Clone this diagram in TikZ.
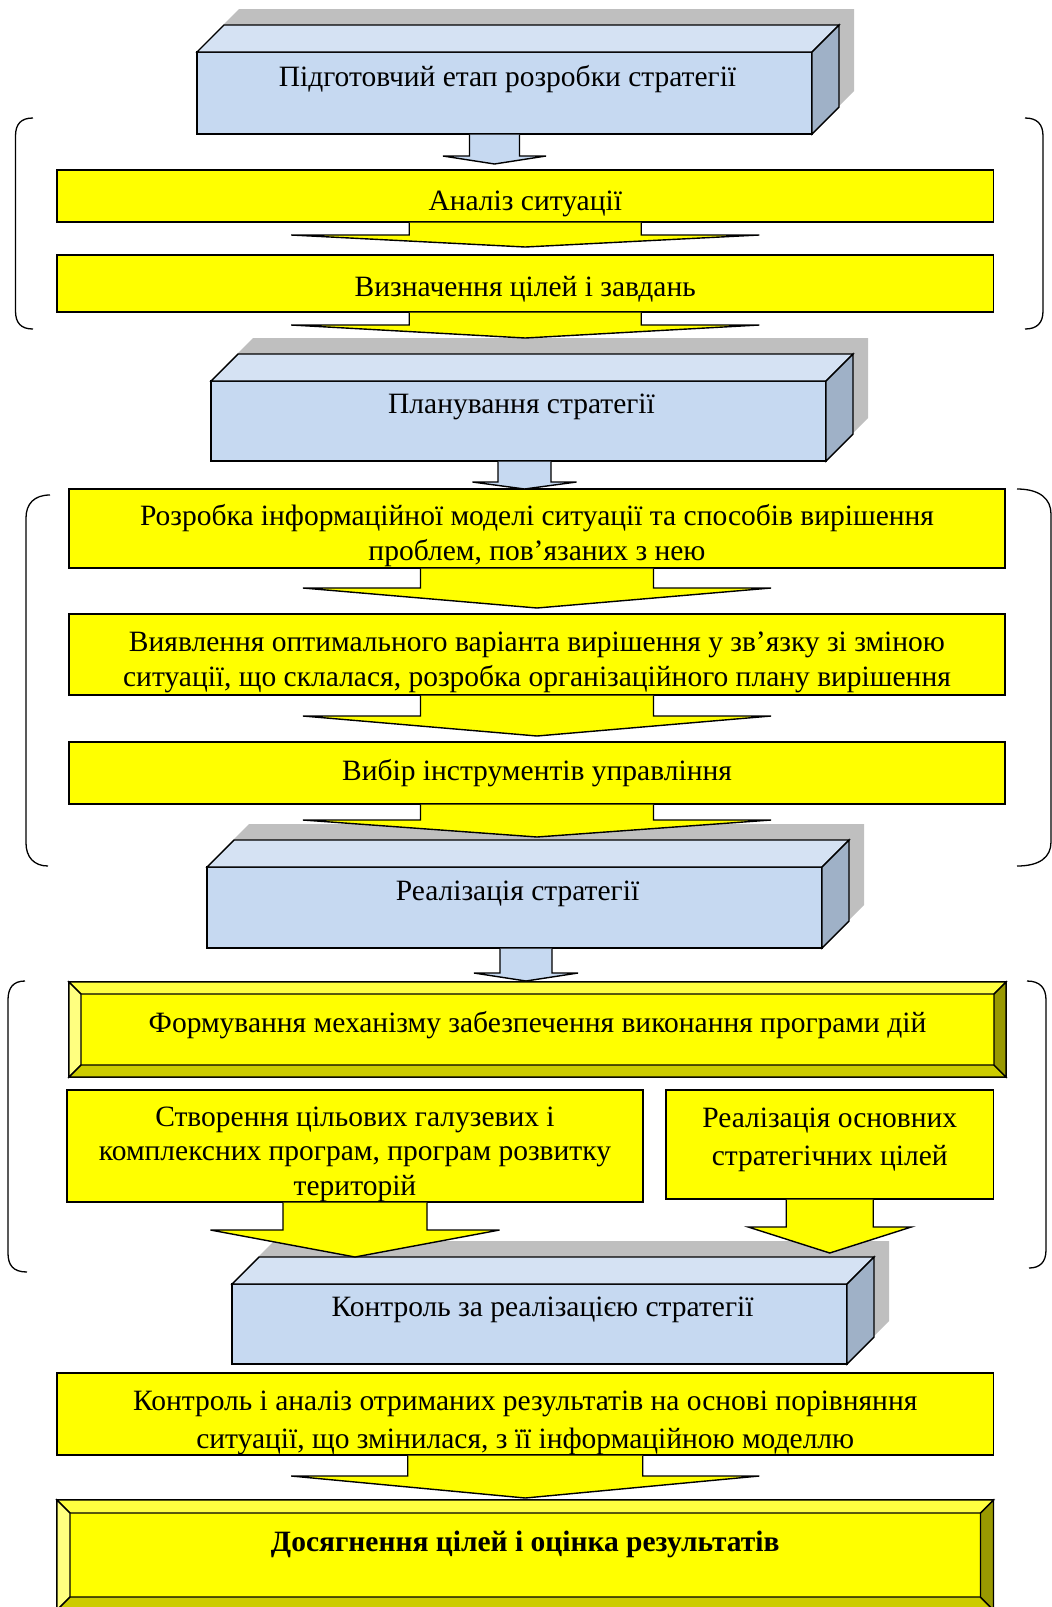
\documentclass[tikz,border=0pt]{standalone}
\usepackage{fontspec}
\setmainfont{Liberation Serif}
\usepackage{xcolor}
\usetikzlibrary{calc,backgrounds}

\definecolor{boxyellow}{HTML}{FFFF00}
\definecolor{cubefront}{HTML}{C6D9F1}
\definecolor{cubetop}{HTML}{D5E2F3}
\definecolor{cubeside}{HTML}{9FB1C7}
\definecolor{cubeshadow}{HTML}{BFBFBF}
\definecolor{beveltop}{HTML}{FFFF40}
\definecolor{bevelleft}{HTML}{FFFF80}
\definecolor{bevelbottom}{HTML}{CCCC00}
\definecolor{bevelright}{HTML}{999900}

\newcommand{\boxfont}{\fontsize{29.5}{34.5}\selectfont}
\newcommand{\wideboxfont}{\fontsize{29.5}{38.5}\selectfont}

\tikzset{
	box/.style={draw, line width=1.4pt, inner sep=0pt, outer sep=0pt},
	ybox/.style={box, fill=boxyellow},
	cube/.style={box, fill=cubefront, minimum width=615pt},
	boxtext/.style={font=\boxfont, align=center},
	cubetext/.style={boxtext, xshift=3pt, yshift=14pt},
	face/.style={draw, line width=1.4pt},
	yarrow/.style={draw, line width=1.4pt, fill=boxyellow},
	barrow/.style={draw, line width=1.4pt, fill=cubefront},
	brace/.style={draw, line width=1.3pt}
}

% #1 style, #2 start, #3 tip, #4 shaft half width, #5 head half width, #6 head length
\newcommand{\blockarrow}[6]{%
	\draw[#1] let \p1=(#2), \p2=(#3) in
		(\x1-#4,\y1) -- (\x1-#4,\y2+#6) -- (\x1-#5,\y2+#6) -- (\x1,\y2)
		-- (\x1+#5,\y2+#6) -- (\x1+#4,\y2+#6) -- (\x1+#4,\y1);
}

\newcommand{\cubefaces}[1]{%
	\begin{scope}[on background layer]
		\fill[cubeshadow] ([shift={(15,-16)}]#1.south west) -- ([shift={(15,-16)}]#1.north west)
			-- ([shift={(42,-43)}]#1.north west) -- ([shift={(42,-43)}]#1.north east)
			-- ([shift={(42,-43)}]#1.south east) -- ([shift={(15,-16)}]#1.south east) -- cycle;
	\end{scope}
	\draw[face, fill=cubetop] (#1.north west) -- ([shift={(27,-27)}]#1.north west)
		-- ([shift={(27,-27)}]#1.north east) -- (#1.north east) -- cycle;
	\draw[face, fill=cubeside] (#1.north east) -- ([shift={(27,-27)}]#1.north east)
		-- ([shift={(27,-27)}]#1.south east) -- (#1.south east) -- cycle;
}

\newcommand{\bevelfaces}[2]{%
	\draw[face, fill=beveltop] (#1.north west) -- (#1.north east)
		-- ([shift={(-#2,#2)}]#1.north east) -- ([shift={(#2,#2)}]#1.north west) -- cycle;
	\draw[face, fill=bevelleft] (#1.north west) -- ([shift={(#2,#2)}]#1.north west)
		-- ([shift={(#2,-#2)}]#1.south west) -- (#1.south west) -- cycle;
	\draw[face, fill=bevelbottom] (#1.south west) -- ([shift={(#2,-#2)}]#1.south west)
		-- ([shift={(-#2,-#2)}]#1.south east) -- (#1.south east) -- cycle;
	\draw[face, fill=bevelright] (#1.south east) -- ([shift={(-#2,-#2)}]#1.south east)
		-- ([shift={(-#2,#2)}]#1.north east) -- (#1.north east) -- cycle;
}

\begin{document}
\begin{tikzpicture}[x=1pt, y=-1pt]
	\useasboundingbox (0,0) rectangle (1052,1607);

	\node[cube, minimum height=82pt,
		label={[cubetext]center:Підготовчий етап розробки стратегії}] (prep) at (504.5,93) {};
	\cubefaces{prep}
	\node[ybox, minimum width=936.5pt, minimum height=52pt,
		label={[boxtext, yshift=-8pt]center:Аналіз ситуації}] (analiz) at (525.25,196) {};
	\node[ybox, minimum width=936.5pt, minimum height=57pt,
		label={[boxtext, yshift=-6pt]center:Визначення цілей і завдань}] (cili) at (525.25,283.5) {};

	\node[cube, minimum height=80pt,
		label={[cubetext]center:Планування стратегії}] (plan) at (518.5,421) {};
	\cubefaces{plan}
	\node[ybox, minimum width=936pt, minimum height=79pt,
		label={[boxtext, yshift=-7pt]center:{Розробка інформаційної моделі ситуації та способів вирішення\\проблем, пов’язаних з нею}}] (model) at (537,528.5) {};
	\node[ybox, minimum width=936pt, minimum height=81pt,
		label={[boxtext, yshift=-8pt]center:{Виявлення оптимального варіанта вирішення у зв’язку зі зміною\\ситуації, що склалася, розробка організаційного плану вирішення}}] (variant) at (537,654.5) {};
	\node[ybox, minimum width=936pt, minimum height=62pt,
		label={[boxtext]center:Вибір інструментів управління}] (instr) at (537,773) {};

	\node[cube, minimum height=81pt,
		label={[cubetext]center:Реалізація стратегії}] (realiz) at (514.5,907.5) {};
	\cubefaces{realiz}
	\node[ybox, minimum width=937pt, minimum height=95pt,
		label={[boxtext, yshift=4pt]center:Формування механізму забезпечення виконання програми дій}] (mech) at (537.5,1029.5) {};
	\bevelfaces{mech}{12}
	\node[ybox, minimum width=576pt, minimum height=112pt,
		label={[boxtext, yshift=-8pt]center:{Створення цільових галузевих і\\комплексних програм, програм розвитку\\територій}}] (program) at (355,1146) {};
	\node[ybox, minimum width=327.5pt, minimum height=109pt,
		label={[boxtext, font=\wideboxfont, yshift=4.5pt]center:{Реалізація основних\\стратегічних цілей}}] (goals) at (829.75,1144.5) {};

	\node[cube, minimum height=80pt,
		label={[cubetext]center:Контроль за реалізацією стратегії}] (control) at (539.5,1324) {};
	\cubefaces{control}
	\node[ybox, minimum width=936.5pt, minimum height=82pt,
		label={[boxtext, font=\wideboxfont, yshift=-9pt]center:{Контроль і аналіз отриманих результатів на основі порівняння\\ситуації, що змінилася, з її інформаційною моделлю}}] (analysis) at (525.25,1414) {};
	\node[ybox, minimum width=936.5pt, minimum height=110pt,
		label={[boxtext, font=\boxfont\bfseries, yshift=11pt]center:Досягнення цілей і оцінка результатів}] (result) at (525.25,1555) {};
	\bevelfaces{result}{13}

	\blockarrow{barrow}{$(prep.south)+(-10,0.7)$}{$(analiz.north)+(0,-6)$}{25pt}{51.5pt}{8pt}
	\blockarrow{yarrow}{$(analiz.south)+(0,0.7)$}{$(cili.north)+(0,-8)$}{116pt}{234pt}{12pt}
	\blockarrow{yarrow}{$(cili.south)+(0,0.7)$}{$(plan.north)+(0,-43)$}{116pt}{234pt}{13pt}
	\blockarrow{barrow}{$(plan.south)+(6,0.7)$}{$(model.north)$}{26.5pt}{52pt}{7pt}
	\blockarrow{yarrow}{$(model.south)+(0,0.7)$}{$(variant.north)+(0,-6)$}{116.5pt}{234pt}{20pt}
	\blockarrow{yarrow}{$(variant.south)+(0,0.7)$}{$(instr.north)+(0,-6)$}{116.5pt}{234pt}{20pt}
	\blockarrow{yarrow}{$(instr.south)+(0,0.7)$}{$(realiz.north)+(0,-30)$}{116.5pt}{234pt}{17pt}
	\blockarrow{barrow}{$(realiz.south)+(11.5,0.7)$}{$(mech.north)+(0,-1)$}{26pt}{52pt}{8pt}
	\blockarrow{yarrow}{$(program.south)+(0,0.7)$}{$(control.north)+(0,-27)$}{72pt}{144.5pt}{27pt}
	\blockarrow{yarrow}{$(goals.south)+(0,0.7)$}{$(control.north)+(0,-31)$}{43.5pt}{81.5pt}{26pt}
	\blockarrow{yarrow}{$(analysis.south)+(0,0.7)$}{$(result.north)+(0,-2)$}{117.5pt}{234pt}{22pt}

	\draw[brace] (33,118) .. controls (21,118) and (15.5,124) .. (15.5,136) -- (15.5,311)
		.. controls (15.5,323) and (21,329) .. (33,329);
	\draw[brace] (1025,118) .. controls (1037,118) and (1043,124) .. (1043,136) -- (1043,311)
		.. controls (1043,323) and (1037,329) .. (1025,329);
	\draw[brace] (50,495) .. controls (34,495) and (26,504) .. (26,518) -- (26,843)
		.. controls (26,857) and (34,866) .. (48,866);
	\draw[brace] (1017,489) .. controls (1040,489) and (1051,499) .. (1051,514) -- (1051,842)
		.. controls (1051,857) and (1040,866) .. (1017,866);
	\draw[brace] (25,981) .. controls (13,981) and (8,988) .. (8,1000) -- (8,1253)
		.. controls (8,1265) and (13,1272) .. (27,1272);
	\draw[brace] (1027,981) .. controls (1040,981) and (1046,988) .. (1046,1000) -- (1046,1250)
		.. controls (1046,1262) and (1040,1268) .. (1029,1268);
\end{tikzpicture}
\end{document}
